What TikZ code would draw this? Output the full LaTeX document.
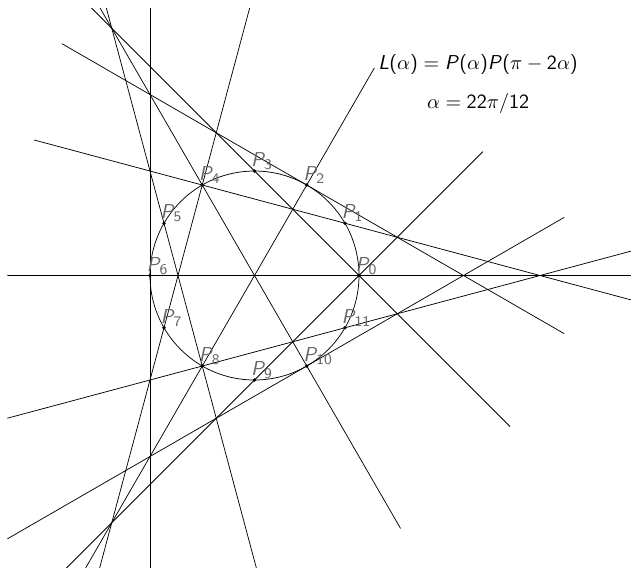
\documentclass[tikz,border=0pt]{standalone}
\usetikzlibrary{calc}
% sans digits and brackets, slanted sans letters
\SetSymbolFont{operators}{normal}{OT1}{cmss}{m}{n}
\DeclareMathAlphabet{\mathsl}{OT1}{cmss}{m}{sl}
\tikzset{
  ptlabel/.style={anchor=south west, inner sep=0pt, xshift=-2pt, yshift=0.5pt, text=black!60},
  formula/.style={anchor=base, inner sep=0pt}
}
\begin{document}
\begin{tikzpicture}[font=\fontsize{11}{13}\selectfont]
  \useasboundingbox (-4.871,-5.579) rectangle (7.206,5.273);
  \clip (-4.731,-5.7) rectangle (7.4,5.12);
  % circle and the twelve points
  \draw (0,0) circle (2);
  \foreach \k in {0,...,11} \coordinate (P\k) at (\k*30:2);
  % chords L(alpha) = P(alpha)P(pi-2alpha)
  \foreach \a/\b/\s/\t in {0/6/9cm/9cm, 1/4/9cm/3.33cm, 3/0/9cm/4.09cm,
      4/10/9cm/3.59cm, 5/8/9cm/9cm, 7/4/9cm/9cm, 8/2/9cm/2.59cm,
      9/0/9cm/3.35cm, 11/8/9cm/9cm}
    \draw ($(P\a)!-\s!(P\b)$) -- ($(P\b)!-\t!(P\a)$);
  % tangents where the two points meet
  \draw ($(P2)+(150:5.41)$) -- ($(P2)+(-30:5.69)$);
  \draw ($(P6)+(90:9)$) -- ($(P6)+(-90:9)$);
  \draw ($(P10)+(210:9)$) -- ($(P10)+(30:5.69)$);
  \foreach \k in {0,...,11} {
    \fill (P\k) circle (1pt);
    \node[ptlabel] (lbl\k) at (P\k) {$\mathsl{P}_{\k}$};
  }
  \node[formula] (law) at (4.28,3.95)
    {$\mathsl{L}(\alpha) = \mathsl{P}(\alpha)\mathsl{P}(\pi - 2\alpha)$};
  \node[formula] (step) at (4.28,3.20) {$\alpha = 22\pi/12$};
\end{tikzpicture}
\end{document}
